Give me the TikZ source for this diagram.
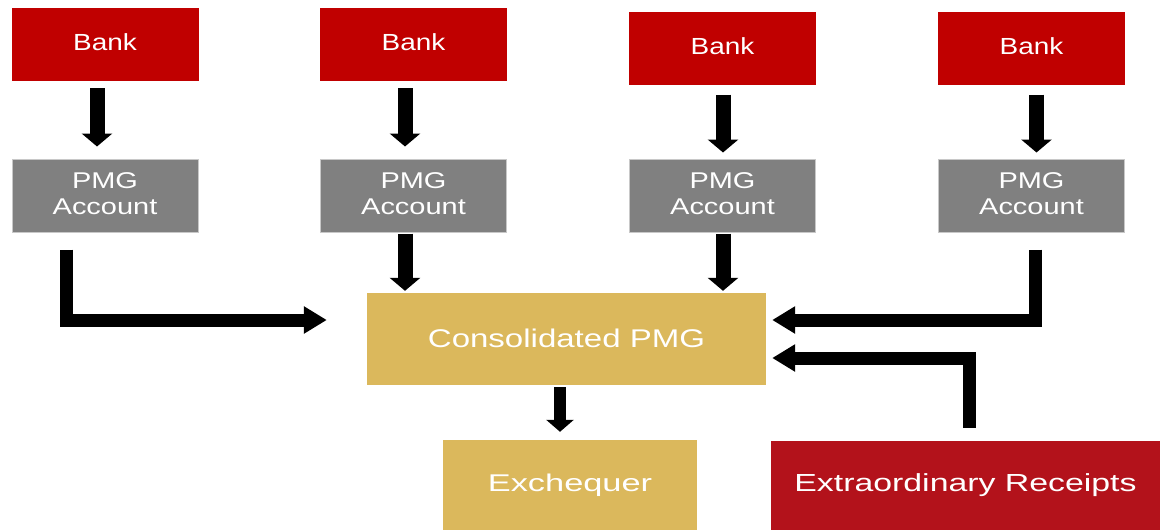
\documentclass[tikz,border=0pt]{standalone}
\usepackage{fontspec}
\setmainfont{Liberation Sans}
\usepackage{graphicx}
\usetikzlibrary{arrows.meta,calc}
\definecolor{bankred}{HTML}{C00000}
\definecolor{pmggray}{HTML}{808080}
\definecolor{pmgedge}{HTML}{C8C8C8}
\definecolor{goldbox}{HTML}{DBB85C}
\definecolor{exred}{HTML}{B3121B}
\newcommand{\hs}[2]{\scalebox{#1}[1]{#2}}
\begin{document}
\begin{tikzpicture}[x=1pt,y=-1pt,
  box/.style={inner sep=0pt, text=white, align=center},
  bankbox/.style={box, fill=bankred, minimum width=187pt, minimum height=73pt,
    font=\fontsize{23.3}{26}\selectfont},
  pmgbox/.style={box, fill=pmggray, draw=pmgedge, line width=1pt,
    minimum width=186pt, minimum height=73pt, font=\fontsize{22.8}{26}\selectfont},
  goldnode/.style={box, fill=goldbox},
  exbox/.style={box, fill=exred},
  varr/.style={line width=15pt, -{Triangle[width=30pt,length=13pt]}},
  barr/.style={line width=13pt, line join=miter, -{Triangle[width=26pt,length=23pt]}},
  earr/.style={line width=12pt, -{Triangle[width=27pt,length=12pt]}}
]
\useasboundingbox (0,0) rectangle (1160,530);

% Banks
\node[bankbox] (b1) at (105,44.5) {\raisebox{4pt}{\hs{1.2}{Bank}}};
\node[bankbox] (b2) at (413.5,44.5) {\raisebox{4pt}{\hs{1.2}{Bank}}};
\node[bankbox] (b3) at (722.5,48) {\raisebox{4pt}{\hs{1.2}{Bank}}};
\node[bankbox] (b4) at (1031.5,48) {\raisebox{4pt}{\hs{1.2}{Bank}}};

% PMG accounts
\node[pmgbox] (p1) at (105,195.5) {\raisebox{3pt}{\hs{1.27}{PMG}}\\\raisebox{3pt}{\hs{1.27}{Account}}};
\node[pmgbox] (p2) at (413.5,195.5) {\raisebox{3pt}{\hs{1.27}{PMG}}\\\raisebox{3pt}{\hs{1.27}{Account}}};
\node[pmgbox] (p3) at (722.5,195.5) {\raisebox{3pt}{\hs{1.27}{PMG}}\\\raisebox{3pt}{\hs{1.27}{Account}}};
\node[pmgbox] (p4) at (1031.5,195.5) {\raisebox{3pt}{\hs{1.27}{PMG}}\\\raisebox{3pt}{\hs{1.27}{Account}}};

% Lower boxes
\node[goldnode, minimum width=399pt, minimum height=92pt, font=\fontsize{25.6}{28}\selectfont]
  (c) at (566.5,339) {\raisebox{1pt}{\hs{1.29}{Consolidated PMG}}};
\node[goldnode, minimum width=254pt, minimum height=90pt, font=\fontsize{24.2}{27}\selectfont]
  (ex) at (570,485) {\hs{1.42}{Exchequer}};
\node[exbox, minimum width=389pt, minimum height=89pt, font=\fontsize{24.7}{27}\selectfont]
  (er) at (965.5,485.5) {\hs{1.37}{Extraordinary Receipts}};

% Bank -> PMG
\draw[varr] ([xshift=-8pt,yshift=-7pt]b1.south) -- ([xshift=-8pt,yshift=12pt]p1.north);
\draw[varr] ([xshift=-8.5pt,yshift=-7pt]b2.south) -- ([xshift=-8.5pt,yshift=12pt]p2.north);
\draw[varr] ([xshift=0.5pt,yshift=-10pt]b3.south) -- ([xshift=0.5pt,yshift=6pt]p3.north);
\draw[varr] ([xshift=5pt,yshift=-10pt]b4.south) -- ([xshift=5pt,yshift=6pt]p4.north);

% PMG -> Consolidated
\draw[varr] ([xshift=-8.5pt,yshift=-1pt]p2.south) -- ($(p2.south |- c.north)+(-8.5,-2)$);
\draw[varr] ([xshift=0.5pt,yshift=-1pt]p3.south) -- ($(p3.south |- c.north)+(0.5,-2)$);
\draw[barr] ([xshift=-38.5pt,yshift=-17pt]p1.south) |- ([xshift=-40pt,yshift=19pt]c.west);
\draw[barr] ([xshift=3.5pt,yshift=-17pt]p4.south) |- ([xshift=6pt,yshift=19pt]c.east);

% Extraordinary -> Consolidated
\draw[barr] ([xshift=3.5pt,yshift=13pt]er.north) |- ([xshift=6pt,yshift=-19pt]c.east);

% Consolidated -> Exchequer
\draw[earr] ([xshift=-6.5pt,yshift=-2pt]c.south) -- ([xshift=-10pt,yshift=8pt]ex.north);
\end{tikzpicture}
\end{document}
